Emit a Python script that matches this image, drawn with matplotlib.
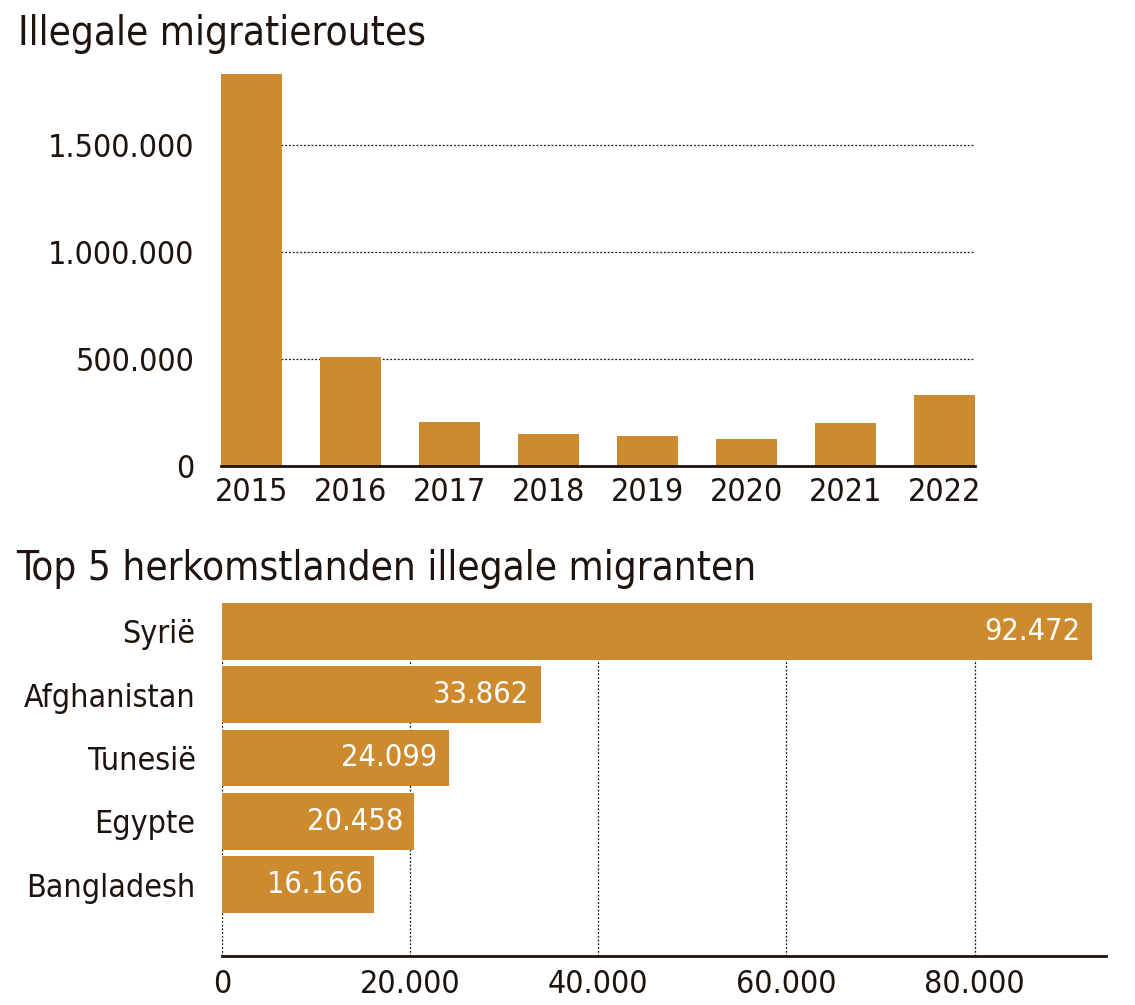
import matplotlib
matplotlib.use("Agg")
import matplotlib.pyplot as plt
from matplotlib import font_manager
from matplotlib.ticker import FuncFormatter

# * data
jaren = ["2015", "2016", "2017", "2018", "2019", "2020", "2021", "2022"]
migratie = [1830000, 511000, 205000, 150000, 142000, 125000, 199000, 330000]

landen = ["Syrië", "Afghanistan", "Tunesië", "Egypte", "Bangladesh"]
aantallen = [92472, 33862, 24099, 20458, 16166]

# * kies een smal lettertype als dat er is
namen = {f.name for f in font_manager.fontManager.ttflist}
lettertype = "DejaVu Sans"
stretch = "normal"
for kandidaat in ["Liberation Sans Narrow", "DejaVu Sans Condensed"]:
    if kandidaat in namen:
        lettertype = kandidaat
        break
else:
    stretch = "condensed"

plt.rcParams["font.family"] = [lettertype, "DejaVu Sans"]
plt.rcParams["font.stretch"] = stretch

KLEUR = "#CD8A2F"
TEKST = "#1E140F"

W, H = 1135, 1005
fig = plt.figure(figsize=(W / 100, H / 100), dpi=100)


def vak(links, boven, rechts, onder):
    # pixels -> figuurfracties
    return [links / W, 1 - onder / H, (rechts - links) / W, (onder - boven) / H]


def punten(n):
    return f"{int(n):,}".replace(",", ".")


# * bovenste grafiek
fig.text(18 / W, 1 - 45 / H, "Illegale migratieroutes", fontsize=29,
         color=TEKST, va="baseline", ha="left")

ax1 = fig.add_axes(vak(221, 72, 975, 466))
x = range(len(jaren))
ax1.bar(x, migratie, width=0.62, color=KLEUR, zorder=2)
ax1.set_xlim(-0.31, len(jaren) - 1 + 0.31)
ax1.set_ylim(0, 1840000)
ax1.set_yticks([0, 500000, 1000000, 1500000])
ax1.yaxis.set_major_formatter(FuncFormatter(lambda v, p: punten(v)))
ax1.set_xticks(list(x))
ax1.set_xticklabels(jaren)
ax1.grid(axis="y", linestyle=(0, (1.5, 1.5)), color=TEKST, linewidth=0.9, zorder=1)
for kant in ["top", "right", "left"]:
    ax1.spines[kant].set_visible(False)
ax1.spines["bottom"].set_color(TEKST)
ax1.spines["bottom"].set_linewidth(2)
ax1.spines["bottom"].set_zorder(3)
ax1.tick_params(axis="both", length=0, labelsize=23, colors=TEKST)
ax1.tick_params(axis="y", pad=19)
ax1.tick_params(axis="x", pad=8)

# * onderste grafiek
fig.text(16 / W, 1 - 580 / H, "Top 5 herkomstlanden illegale migranten",
         fontsize=29, color=TEKST, va="baseline", ha="left")

ax2 = fig.add_axes(vak(222, 603, 1106, 956))
y = range(len(landen))
balken = ax2.barh(y, aantallen, height=0.9, color=KLEUR, zorder=2)
ax2.set_ylim(4 + 0.45 + 0.68, -0.45)
ax2.set_xlim(0, 93970)
ax2.set_xticks([0, 20000, 40000, 60000, 80000])
ax2.xaxis.set_major_formatter(FuncFormatter(lambda v, p: punten(v)))
ax2.set_yticks(list(y))
ax2.set_yticklabels(landen)
ax2.grid(axis="x", linestyle=(0, (1.5, 1.5)), color=TEKST, linewidth=0.9, zorder=1)
for kant in ["top", "right", "left"]:
    ax2.spines[kant].set_visible(False)
ax2.spines["bottom"].set_color(TEKST)
ax2.spines["bottom"].set_linewidth(2)
ax2.tick_params(axis="both", length=0, labelsize=23, colors=TEKST)
ax2.tick_params(axis="y", pad=19)
ax2.tick_params(axis="x", pad=9)

# * getallen in de balken
for balk, n in zip(balken, aantallen):
    ax2.annotate(punten(n), (balk.get_width(), balk.get_y() + balk.get_height() / 2),
                 xytext=(-8, 0), textcoords="offset points", ha="right", va="center",
                 color="white", fontsize=22, zorder=4)

plt.savefig("out.png", dpi=100)
